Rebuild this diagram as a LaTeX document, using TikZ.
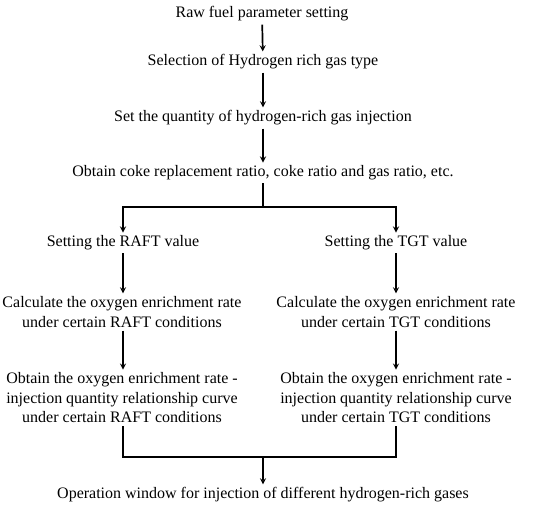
\documentclass[tikz,border=0pt]{standalone}
\usepackage{fontspec}
\setmainfont{Liberation Serif}
\usepackage{tikz}
\usetikzlibrary{arrows}
\tikzstyle{arrow} = [line width=1.7pt,->,>=stealth]
\tikzstyle{line} = [line width=1.7pt]
\tikzstyle{stepnode} = [align=center,inner sep=3pt,font=\fontsize{16}{19.5}\selectfont]

\begin{document}
\begin{tikzpicture}[x=1pt,y=-1pt]
\useasboundingbox (0,0) rectangle (550,508);
% main column
\node[stepnode] (raw) at (262,14) {Raw fuel parameter setting};
\node[stepnode] (sel) at (263,62) {Selection of Hydrogen rich gas type};
\node[stepnode] (qty) at (263,118) {Set the quantity of hydrogen-rich gas injection};
\node[stepnode] (coke) at (263,173) {Obtain coke replacement ratio, coke ratio and gas ratio, etc.};
% two branches
\node[stepnode] (raft) at (123,243) {Setting the RAFT value};
\node[stepnode] (tgt) at (396,243) {Setting the TGT value};
\node[stepnode] (calcr) at (122,312) {Calculate the oxygen enrichment rate\\under certain RAFT conditions};
\node[stepnode] (calct) at (396,312) {Calculate the oxygen enrichment rate\\under certain TGT conditions};
\node[stepnode] (curver) at (122,398) {Obtain the oxygen enrichment rate -\\injection quantity relationship curve\\under certain RAFT conditions};
\node[stepnode] (curvet) at (396,398) {Obtain the oxygen enrichment rate -\\injection quantity relationship curve\\under certain TGT conditions};
\node[stepnode] (win) at (263,495) {Operation window for injection of different hydrogen-rich gases};
\coordinate (split) at (263,207);
\coordinate (join) at (263,457);

\draw [arrow] (raw) -- (sel);
\draw [arrow] (sel) -- (qty);
\draw [arrow] (qty) -- (coke);
\draw [line] (coke) -- (split);
\draw [arrow] (split) -| (raft);
\draw [arrow] (split) -| (tgt);
\draw [arrow] (raft) -- (raft |- calcr.north);
\draw [arrow] (tgt) -- (tgt |- calct.north);
\draw [arrow] (calcr.south -| raft) -- (raft |- curver.north);
\draw [arrow] (calct.south -| tgt) -- (tgt |- curvet.north);
\draw [line] (curver.south -| raft) |- (join);
\draw [line] (curvet.south -| tgt) |- (join);
\draw [arrow] (join) -- (win);
\end{tikzpicture}
\end{document}
